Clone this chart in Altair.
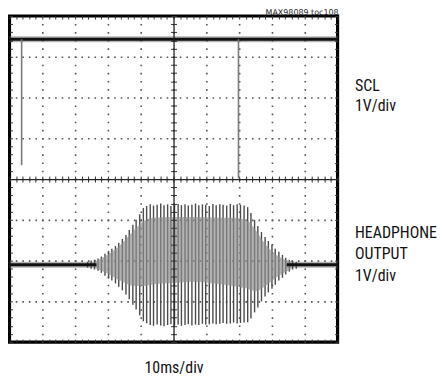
import altair as alt
import pandas as pd

# x in ms (10 ms/div, 10 divisions), y in divisions (1 V/div, 8 divisions)
scl_level = [3.43]
scl_start = [0.0]
scl_end = [100.0]
scl_spike_x = [3.7, 69.8]
scl_spike_bottom = [0.34, 0.02]

hp_level = [-2.10, -2.10]
hp_quiet_start = [0.0, 84.5]
hp_quiet_end = [26.5, 100.0]

burst_x = [23.8, 24.9, 25.9, 27.0, 28.0, 29.1, 30.2, 31.2, 32.3, 33.3, 34.4, 35.5,
           36.5, 37.6, 38.6, 39.7, 40.8, 41.8, 42.9, 43.9, 45.0, 46.1, 47.1, 48.2,
           49.2, 50.3, 51.4, 52.4, 53.5, 54.5, 55.6, 56.7, 57.7, 58.8, 59.8, 60.9,
           62.0, 63.0, 64.1, 65.1, 66.2, 67.3, 68.3, 69.4, 70.4, 71.5, 72.6, 73.6,
           74.7, 75.7, 76.8, 77.9, 78.9, 80.0, 81.0, 82.1, 83.2, 84.2, 85.3, 86.3, 87.4]
burst_top = [-2.03, -2.00, -1.98, -1.95, -1.90, -1.83, -1.76, -1.71, -1.64, -1.56, -1.47, -1.37,
             -1.25, -1.12, -1.00, -0.86, -0.71, -0.66,
             -0.62, -0.65, -0.63, -0.60, -0.64, -0.62, -0.66, -0.63, -0.61, -0.64, -0.62, -0.65,
             -0.63, -0.60, -0.64, -0.62, -0.63, -0.66, -0.61, -0.64, -0.62, -0.63, -0.65, -0.61,
             -0.64, -0.62, -0.63, -0.65,
             -0.69, -0.83, -1.00, -1.15, -1.30, -1.42, -1.52, -1.61, -1.71, -1.78, -1.86, -1.93,
             -1.98, -2.00, -2.03]
burst_bottom = [-2.17, -2.20, -2.22, -2.25, -2.30, -2.37, -2.44, -2.49, -2.56, -2.64, -2.73, -2.83,
                -2.95, -3.08, -3.20, -3.34, -3.49, -3.54,
                -3.58, -3.60, -3.57, -3.59, -3.61, -3.58, -3.56, -3.59, -3.57, -3.60, -3.58, -3.56,
                -3.59, -3.57, -3.58, -3.55, -3.57, -3.56, -3.54, -3.56, -3.55, -3.53, -3.55, -3.54,
                -3.52, -3.54, -3.53, -3.52,
                -3.51, -3.42, -3.27, -3.15, -3.00, -2.88, -2.78, -2.69, -2.59, -2.49, -2.42, -2.34,
                -2.27, -2.22, -2.20]

band_x = [26, 30, 34, 38, 41, 44, 50, 56, 62, 68, 72, 75, 78, 82, 86]
band_top = [-2.02, -1.85, -1.60, -1.25, -1.02, -0.95, -0.93, -0.93, -0.94, -0.95, -1.00, -1.25,
            -1.60, -1.90, -2.02]
band_bottom = [-2.18, -2.32, -2.50, -2.62, -2.62, -2.58, -2.55, -2.52, -2.56, -2.62, -2.68, -2.75,
               -2.62, -2.38, -2.20]

label_text = ["SCL", "1V/div", "HEADPHONE", "OUTPUT", "1V/div"]
label_y = [2.29, 1.80, -1.32, -1.85, -2.37]
source_note = ["MAX98089 toc108"]

x_major = [10, 20, 30, 40, 50, 60, 70, 80, 90]
y_major = [-3, -2, -1, 0, 1, 2, 3]
x_minor = [v * 2 for v in range(51)]
y_minor = [round(-4 + v * 0.2, 1) for v in range(41)]

NARROW = "Liberation Sans Narrow, Roboto Condensed, DejaVu Sans Condensed, Arial Narrow, sans-serif"
W, H = 330, 328

xs = alt.Scale(domain=[0, 100], nice=False, zero=False)
ys = alt.Scale(domain=[-4, 4], nice=False, zero=False)


def tick_axis(orient, offset, values, domain=False):
    return alt.Axis(orient=orient, offset=offset, values=values, ticks=True, tickSize=3,
                    tickColor="#333", tickWidth=1, domain=domain, domainColor="#222",
                    domainWidth=1.3, labels=False, grid=False, title=None, zindex=1)


ax_grid = alt.Axis(orient="bottom", values=x_major, grid=True, gridDash=[1.6, 6.6],
                   gridDashOffset=0.8, gridColor="#555", gridWidth=1.6, gridOpacity=1,
                   ticks=False, labels=False, domain=False, title="10ms/div",
                   titleFont=NARROW, titleFontSize=16, titleFontWeight="normal",
                   titleColor="#111", titlePadding=18)
ay_grid = alt.Axis(orient="left", values=y_major, grid=True, gridDash=[1.6, 5.0],
                   gridDashOffset=0.8, gridColor="#555", gridWidth=1.6, gridOpacity=1,
                   ticks=False, labels=False, domain=False, title=None)

scl_df = pd.DataFrame({"x0": scl_start, "x1": scl_end, "v": scl_level})
spike_df = pd.DataFrame({"x": scl_spike_x, "y0": scl_spike_bottom,
                         "y1": scl_level * len(scl_spike_x)})
hp_df = pd.DataFrame({"x0": hp_quiet_start, "x1": hp_quiet_end, "v": hp_level})
burst_df = pd.DataFrame({"x": burst_x, "top": burst_top, "bottom": burst_bottom})
band_df = pd.DataFrame({"x": band_x, "top": band_top, "bottom": band_bottom})
label_df = pd.DataFrame({"t": label_text, "v": label_y})
note_df = pd.DataFrame({"t": source_note})

scl_fuzz = alt.Chart(scl_df).mark_rule(color="#777", strokeWidth=6, opacity=0.55).encode(
    x=alt.X("x0:Q", scale=xs, axis=ax_grid), x2="x1:Q",
    y=alt.Y("v:Q", scale=ys, axis=ay_grid))
scl_line = alt.Chart(scl_df).mark_rule(color="#111", strokeWidth=3).encode(
    x=alt.X("x0:Q", scale=xs, axis=tick_axis("bottom", -H / 2, x_minor, True)), x2="x1:Q",
    y=alt.Y("v:Q", scale=ys, axis=tick_axis("left", -W / 2, y_minor, True)))
spikes = alt.Chart(spike_df).mark_rule(color="#7a7a7a", strokeWidth=1.6).encode(
    x=alt.X("x:Q", scale=xs, axis=tick_axis("top", -H / 2, x_minor)),
    y=alt.Y("y0:Q", scale=ys, axis=tick_axis("right", -W / 2, y_minor)), y2="y1:Q")
hp_fuzz = alt.Chart(hp_df).mark_rule(color="#777", strokeWidth=6, opacity=0.55).encode(
    x=alt.X("x0:Q", scale=xs, axis=tick_axis("bottom", -H, x_minor)), x2="x1:Q",
    y=alt.Y("v:Q", scale=ys, axis=tick_axis("right", -W, y_minor)))
hp_line = alt.Chart(hp_df).mark_rule(color="#111", strokeWidth=3).encode(
    x=alt.X("x0:Q", scale=xs, axis=tick_axis("top", -H, x_minor)), x2="x1:Q",
    y=alt.Y("v:Q", scale=ys, axis=tick_axis("left", -W, y_minor)))
burst = alt.Chart(burst_df).mark_rule(color="#4a4a4a", strokeWidth=1.4).encode(
    x=alt.X("x:Q", scale=xs, axis=None),
    y=alt.Y("bottom:Q", scale=ys, axis=None), y2="top:Q")
band = alt.Chart(band_df).mark_area(color="#8e8e8e", opacity=0.68, interpolate="monotone").encode(
    x=alt.X("x:Q", scale=xs, axis=None),
    y=alt.Y("bottom:Q", scale=ys, axis=None), y2="top:Q")
labels = alt.Chart(label_df).mark_text(align="left", baseline="middle", font=NARROW,
                                       fontSize=16, color="#111").encode(
    x=alt.value(W + 17.5),
    y=alt.Y("v:Q", scale=ys, axis=None), text="t:N")
note = alt.Chart(note_df).mark_text(align="right", baseline="alphabetic", font="DejaVu Sans",
                                    fontSize=8, color="#222").encode(
    x=alt.value(W + 1), y=alt.value(-1.2), text="t:N")

chart = alt.layer(scl_fuzz, hp_fuzz, burst, band, scl_line, hp_line, spikes, labels, note).resolve_axis(
    x="independent", y="independent"
).properties(
    width=W, height=H,
    autosize=alt.AutoSizeParams(type="none"),
    padding={"left": 1.5, "top": 7, "right": 100, "bottom": 34},
).configure_view(stroke="#000", strokeWidth=3.2)

chart.save("out.html", embed_options={"renderer": "svg", "actions": False})
